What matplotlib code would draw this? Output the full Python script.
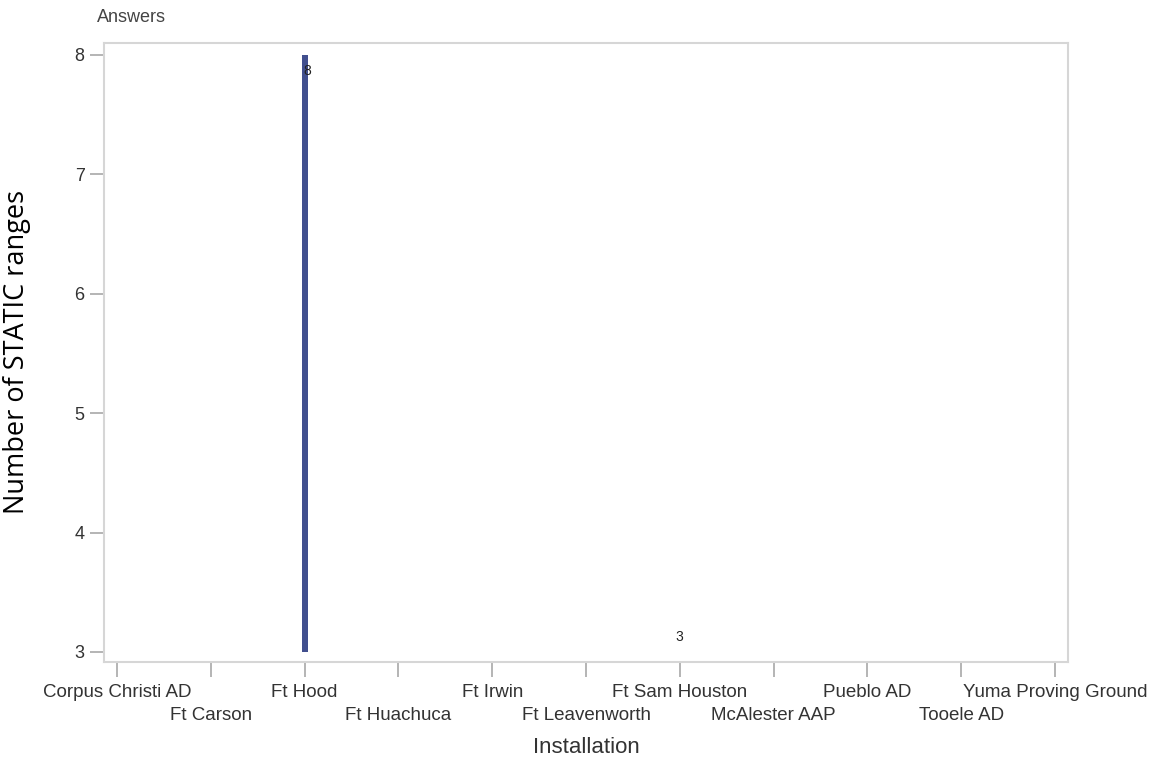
import matplotlib
matplotlib.use('Agg')
import matplotlib.pyplot as plt
import numpy as np

# installations on the x axis and the answer counts (None = no answer)
INSTALLATIONS = ['Corpus Christi AD', 'Ft Carson', 'Ft Hood', 'Ft Huachuca', 'Ft Irwin',
                 'Ft Leavenworth', 'Ft Sam Houston', 'McAlester AAP', 'Pueblo AD',
                 'Tooele AD', 'Yuma Proving Ground']
COUNTS = [None, None, 8, None, None, None, 3, None, None, None, None]
Y_TICKS = [3, 4, 5, 6, 7, 8]
BASE = 3

plt.rcParams.update({
    'font.family': ['Liberation Sans', 'DejaVu Sans'],
    'font.size': 12,
    'figure.facecolor': 'white',
})

BAR = '#414f8e'
FRAME = '#d6d6d6'
TICK = '#a8a8a8'
TXT = '#333333'

fig = plt.figure(figsize=(11.61, 7.66), dpi=100)
ax = fig.add_axes([104 / 1161, 1 - 662 / 766, (1068 - 104) / 1161, (662 - 43) / 766])

x = np.arange(len(INSTALLATIONS))
for xi, v in zip(x, COUNTS):
    if v is None:
        continue
    ax.bar(xi, v - BASE, bottom=BASE, width=0.065, color=BAR, edgecolor='none')
    if v > BASE:
        ax.text(xi + 0.03, v - 0.08, str(v), ha='center', va='top', fontsize=10, color='#222222')
    else:
        ax.text(xi, v + 0.07, str(v), ha='center', va='bottom', fontsize=10, color='#222222')

ax.set_xlim(-0.14, 10.14)
ax.set_ylim(2.916, 8.1)
ax.set_yticks(Y_TICKS)
ax.set_yticklabels([str(t) for t in Y_TICKS], fontsize=13, color=TXT)
ax.set_xticks(x)
ax.set_xticklabels(INSTALLATIONS, fontsize=13.5, color=TXT)

for s in ax.spines.values():
    s.set_color(FRAME)
    s.set_linewidth(1.5)
ax.tick_params(axis='y', length=10, width=1.2, color=TICK, pad=4)
ax.tick_params(axis='x', length=11, width=1.2, color=TICK)
# staggered category labels
for i, t in enumerate(ax.xaxis.get_major_ticks()):
    t.set_pad(5 if i % 2 == 0 else 21.5)

ax.set_xlabel('Installation', fontsize=16, color=TXT, labelpad=9)
fig.text(17 / 1161, 1 - 352 / 766, 'Number of STATIC ranges', rotation=90, ha='center', va='center',
         fontsize=19.5, family=['Open Sans', 'DejaVu Sans'], color='black')
fig.text(97 / 1161, 1 - 18 / 766, 'Answers', ha='left', va='center', fontsize=13, color='#444444')

plt.savefig('out.png', dpi=100)
plt.close()
